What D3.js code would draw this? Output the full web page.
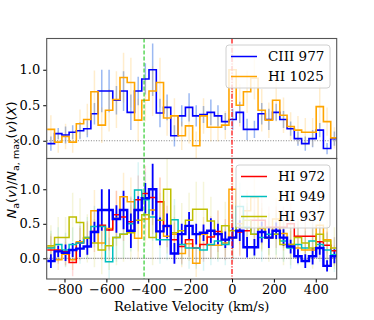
<!DOCTYPE html>
<html>
<head>
<meta charset="utf-8">
<script src="https://cdn.jsdelivr.net/npm/d3@7"></script>
<style>
  body { margin: 0; background: #fff; }
  svg { display: block; }
  text { font-family: "DejaVu Serif", serif; fill: #000; }
</style>
</head>
<body>
<svg id="chart" width="374" height="320"></svg>
<script>
// bin centres (km/s)
const velocity = [-865, -830, -795, -761, -726, -691, -657, -622, -587, -552,
  -518, -483, -448, -414, -379, -344, -310, -275, -240, -205,
  -171, -136, -101, -67, -32, 3, 37, 72, 107, 142,
  176, 211, 246, 280, 315, 350, 385, 419, 454, 489];

const ciii977 = [-0.04, 0.10, 0.08, 0.12, 0.14, 0.17, 0.38, 0.70, 0.70, 0.57,
  0.70, 0.40, 0.70, 0.87, 1.00, 0.39, 0.47, 0.07, 0.35, 0.47,
  0.35, 0.37, 0.40, 0.35, 0.27, 0.30, 0.40, 0.16, 0.16, 0.38,
  0.30, 0.40, 0.30, 0.17, 0.03, -0.04, 0.03, 0.15, -0.11, 0.03];
const ciii977Err = [0.10, 0.08, 0.12, 0.10, 0.12, 0.12, 0.15, 0.30, 0.30, 0.20,
  0.28, 0.25, 0.20, 0.22, 0.37, 0.20, 0.18, 0.15, 0.15, 0.20,
  0.15, 0.12, 0.18, 0.15, 0.12, 0.15, 0.15, 0.15, 0.12, 0.15,
  0.15, 0.12, 0.12, 0.10, 0.10, 0.10, 0.12, 0.10, 0.08, 0.10];

const hi1025 = [0.16, -0.02, 0.06, -0.02, 0.24, 0.30, 0.69, 0.22, 0.43, 0.58,
  0.89, 0.82, 0.29, 0.57, 0.70, 0.82, 0.32, 0.35, 0.07, 0.21,
  -0.07, 0.35, 0.19, 0.19, 0.22, 1.00, 0.50, 0.69, 0.88, 0.43,
  0.29, 0.57, 0.36, 0.20, 0.15, 0.12, 0.12, 0.48, 0.27, 0.04];
const hi1025Err = [0.20, 0.15, 0.18, 0.15, 0.20, 0.22, 0.30, 0.25, 0.30, 0.40,
  0.35, 0.35, 0.30, 0.30, 0.35, 0.35, 0.25, 0.25, 0.20, 0.25,
  0.20, 0.25, 0.20, 0.20, 0.20, 0.35, 0.30, 0.30, 0.30, 0.30,
  0.25, 0.30, 0.25, 0.20, 0.20, 0.20, 0.20, 0.30, 0.20, 0.15];

const hi972 = [0.12, 0.12, 0.10, -0.06, 0.22, 0.29, 0.39, 0.48, 0.41, 0.63,
  0.60, 0.53, 0.85, 0.94, 0.88, 0.82, 0.46, 0.27, 0.17, 0.27,
  0.15, 0.20, 0.31, 0.39, 0.27, 0.30, 0.38, 0.40, 0.55, 0.55,
  0.45, 0.45, 0.45, 0.50, 0.32, 0.32, 0.32, 0.24, 0.19, 0.11];
const hi972Err = [0.20, 0.20, 0.20, 0.20, 0.25, 0.25, 0.30, 0.30, 0.30, 0.35,
  0.35, 0.35, 0.35, 0.40, 0.40, 0.35, 0.30, 0.25, 0.25, 0.25,
  0.25, 0.25, 0.30, 0.30, 0.30, 0.30, 0.35, 0.35, 0.35, 0.35,
  0.30, 0.30, 0.30, 0.30, 0.25, 0.25, 0.25, 0.25, 0.20, 0.20];

const hi949 = [0.15, 0.20, 0.12, 0.20, 0.22, 0.30, 0.46, 0.46, -0.05, 0.30,
  0.35, 0.50, 0.99, 0.85, 0.60, 0.27, 0.27, 0.56, 0.20, 0.15,
  0.15, 0.12, 0.20, 0.25, 0.20, 0.30, 0.75, 0.45, 0.35, 0.30,
  0.35, 0.35, 0.25, 0.15, 0.20, 0.15, 0.25, 0.20, 0.12, 0.05];
const hi949Err = [0.25, 0.25, 0.25, 0.25, 0.30, 0.30, 0.30, 0.35, 0.35, 0.35,
  0.35, 0.40, 0.40, 0.40, 0.35, 0.35, 0.30, 0.30, 0.30, 0.30,
  0.30, 0.30, 0.30, 0.30, 0.30, 0.35, 0.35, 0.35, 0.35, 0.35,
  0.30, 0.30, 0.30, 0.30, 0.30, 0.25, 0.25, 0.25, 0.25, 0.25];

const hi937 = [0.18, 0.30, 0.30, 0.60, 0.52, 0.29, 0.22, 0.12, 0.18, 0.30,
  0.35, 0.37, 0.55, 0.63, 0.30, 0.55, 1.00, 0.37, 0.40, 0.55,
  0.71, 0.71, 0.54, 0.35, 0.47, 0.40, 0.45, 0.55, 0.35, 0.45,
  0.30, 0.35, 0.20, 0.20, 0.30, 0.22, 0.15, 0.35, 0.25, 0.15];
const hi937Err = [0.30, 0.30, 0.30, 0.35, 0.35, 0.35, 0.35, 0.35, 0.35, 0.40,
  0.40, 0.40, 0.45, 0.45, 0.40, 0.40, 0.45, 0.40, 0.40, 0.40,
  0.40, 0.40, 0.35, 0.35, 0.35, 0.40, 0.40, 0.40, 0.35, 0.35,
  0.35, 0.35, 0.30, 0.30, 0.30, 0.30, 0.30, 0.30, 0.30, 0.30];

const xTicks = [-800, -600, -400, -200, 0, 200, 400];
const yTicks = [0, 0.5, 1.0];
const markerVelocities = [-420, 0];

// Layout
const svg = d3.select("#chart");
const left = 46.7, right = 336.7;
const x = d3.scaleLinear().domain([-885, 500]).range([left, right]);

const panels = [
  {
    top: 38.5, bottom: 158.5, domain: [-0.25, 1.44], zeroDash: "1,1.6",
    series: [
      { vals: ciii977, err: ciii977Err, color: "#0000ff", lw: 1.6, errColor: "#4a7fe8", errOp: 0.55, errW: 1.5 },
      { vals: hi1025, err: hi1025Err, color: "#ffa500", lw: 1.6, errColor: "#ffa500", errOp: 0.2, errW: 1.5 }
    ],
    legend: [["CIII 977", "#0000ff"], ["HI 1025", "#ffa500"]],
    legendBox: [226, 45, 104, 43]
  },
  {
    top: 158.5, bottom: 279, domain: [-0.3, 1.446], zeroDash: "1.5,0.8",
    series: [
      { vals: hi1025, err: hi1025Err, color: "#ffa500", lw: 1.5, errColor: "#ffa500", errOp: 0.18, errW: 1.5 },
      { vals: hi972, err: hi972Err, color: "#ff0000", lw: 1.5, errColor: "#ff0000", errOp: 0.15, errW: 1.5 },
      { vals: hi949, err: hi949Err, color: "#00bfbf", lw: 1.5, errColor: "#00bfbf", errOp: 0.15, errW: 1.5 },
      { vals: hi937, err: hi937Err, color: "#bfbf00", lw: 1.5, errColor: "#bfbf00", errOp: 0.15, errW: 1.5 },
      { vals: ciii977, err: ciii977Err, color: "#0000ff", lw: 2.4, errColor: "#0000ff", errOp: 1, errW: 1.8 }
    ],
    legend: [["HI 972", "#ff0000"], ["HI 949", "#00bfbf"], ["HI 937", "#bfbf00"]],
    legendBox: [236, 165, 94, 63]
  }
];

// bin edges from the centres
const edges = velocity.map((v, i) => {
  const prev = i > 0 ? velocity[i - 1] : v - (velocity[1] - velocity[0]);
  return (prev + v) / 2;
});
edges.push(velocity[velocity.length - 1] + (velocity[velocity.length - 1] - velocity[velocity.length - 2]) / 2);

function stepPoints(vals) {
  const pts = [];
  vals.forEach((v, i) => {
    pts.push([edges[i], v]);
    pts.push([edges[i + 1], v]);
  });
  return pts;
}

panels.forEach((p, pi) => {
  const y = d3.scaleLinear().domain(p.domain).range([p.bottom, p.top]);
  const clipId = "clip" + pi;
  svg.append("clipPath").attr("id", clipId)
    .append("rect").attr("x", left).attr("y", p.top)
    .attr("width", right - left).attr("height", p.bottom - p.top);

  const g = svg.append("g").attr("clip-path", `url(#${clipId})`);

  // zero level
  g.append("line")
    .attr("x1", left).attr("x2", right)
    .attr("y1", y(0)).attr("y2", y(0))
    .attr("stroke", "#808080").attr("stroke-width", 1)
    .attr("stroke-dasharray", p.zeroDash);

  const line = d3.line().x(d => x(d[0])).y(d => y(d[1]));

  p.series.forEach(s => {
    g.append("g").selectAll("line")
      .data(s.vals)
      .join("line")
      .attr("x1", (d, i) => x(velocity[i]))
      .attr("x2", (d, i) => x(velocity[i]))
      .attr("y1", (d, i) => y(d - s.err[i]))
      .attr("y2", (d, i) => y(d + s.err[i]))
      .attr("stroke", s.errColor)
      .attr("stroke-opacity", s.errOp)
      .attr("stroke-width", s.errW);
  });
  p.series.forEach(s => {
    g.append("path")
      .datum(stepPoints(s.vals))
      .attr("d", line)
      .attr("fill", "none")
      .attr("stroke", s.color)
      .attr("stroke-width", s.lw)
      .attr("stroke-linejoin", "miter");
  });

  // marker velocities
  g.append("line")
    .attr("x1", x(markerVelocities[0])).attr("x2", x(markerVelocities[0]))
    .attr("y1", p.top).attr("y2", p.bottom)
    .attr("stroke", "#32cd32").attr("stroke-width", 1.2)
    .attr("stroke-dasharray", "4,2");
  g.append("line")
    .attr("x1", x(markerVelocities[1])).attr("x2", x(markerVelocities[1]))
    .attr("y1", p.top).attr("y2", p.bottom)
    .attr("stroke", "#ff0000").attr("stroke-width", 1.2)
    .attr("stroke-dasharray", "5,1.5,1.2,1.5");

  // y axis
  const yAxis = svg.append("g")
    .attr("transform", `translate(${left},0)`)
    .call(d3.axisLeft(y).tickValues(yTicks).tickFormat(d3.format(".1f")).tickSize(3.5).tickPadding(3));
  yAxis.select(".domain").remove();
  yAxis.selectAll("line").attr("stroke", "#000");
  yAxis.selectAll("text").style("font-family", "DejaVu Serif").style("font-size", "13px");

  // legend
  const [lx, ly, lw, lh] = p.legendBox;
  const lg = svg.append("g");
  lg.append("rect")
    .attr("x", lx).attr("y", ly).attr("width", lw).attr("height", lh)
    .attr("rx", 3)
    .attr("fill", "#fff").attr("fill-opacity", 0.8)
    .attr("stroke", "#d0d0d0").attr("stroke-width", 1);
  p.legend.forEach(([label, color], i) => {
    const cy = ly + 11.5 + i * 20;
    lg.append("line")
      .attr("x1", lx + 5).attr("x2", lx + 31)
      .attr("y1", cy).attr("y2", cy)
      .attr("stroke", color).attr("stroke-width", 1.5);
    lg.append("text")
      .attr("x", lx + 42).attr("y", cy + 4.8)
      .style("font-size", "13.5px")
      .text(label);
  });

  // frame
  svg.append("rect")
    .attr("x", left).attr("y", p.top)
    .attr("width", right - left).attr("height", p.bottom - p.top)
    .attr("fill", "none").attr("stroke", "#555").attr("stroke-width", 1.1);
});

// x axis
const xAxis = svg.append("g")
  .attr("transform", `translate(0,${panels[1].bottom})`)
  .call(d3.axisBottom(x).tickValues(xTicks).tickSize(3.5).tickPadding(2.5));
xAxis.select(".domain").remove();
xAxis.selectAll("line").attr("stroke", "#000");
xAxis.selectAll("text").style("font-family", "DejaVu Serif").style("font-size", "13px");

svg.append("text")
  .attr("x", (left + right) / 2).attr("y", 311)
  .attr("text-anchor", "middle")
  .style("font-size", "13px")
  .text("Relative Velocity (km/s)");

// y label (math-style)
const yl = svg.append("text")
  .attr("transform", "translate(16,160) rotate(-90)")
  .attr("text-anchor", "middle")
  .style("font-family", "DejaVu Sans")
  .style("font-size", "13px");
yl.append("tspan").style("font-style", "italic").text("N");
yl.append("tspan").attr("dy", 3).style("font-size", "9.5px").text("a");
yl.append("tspan").attr("dy", -3).text("(");
yl.append("tspan").style("font-style", "italic").text("v");
yl.append("tspan").text(")/");
yl.append("tspan").style("font-style", "italic").text("N");
yl.append("tspan").attr("dy", 3).style("font-size", "9.5px").text("a, max");
yl.append("tspan").attr("dy", -3).text("(");
yl.append("tspan").style("font-style", "italic").text("v");
yl.append("tspan").text(")(");
yl.append("tspan").style("font-style", "italic").text("X");
yl.append("tspan").text(")");
</script>
</body>
</html>
